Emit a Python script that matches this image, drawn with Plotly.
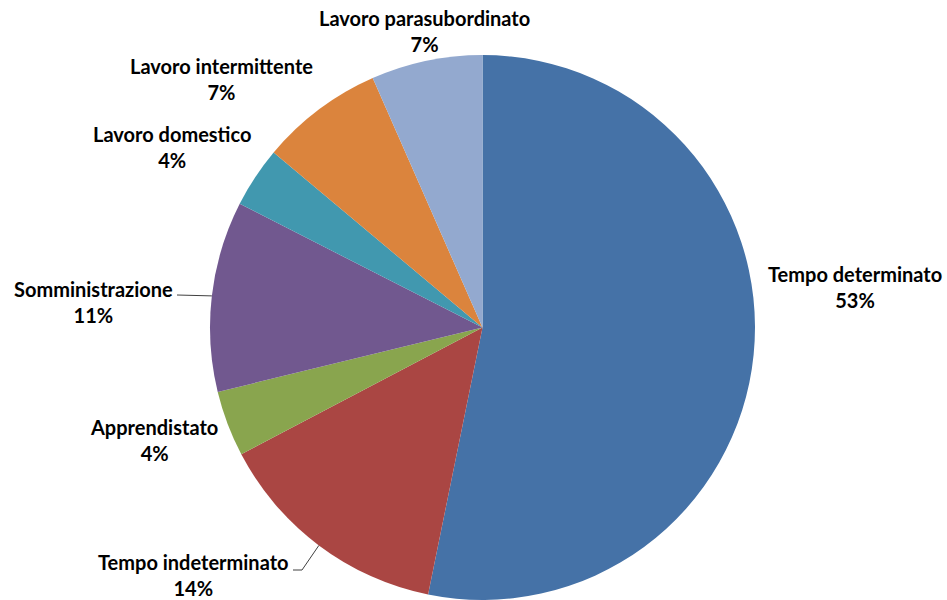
import math
import plotly.graph_objects as go

# ---- data ----
categories = ["Tempo determinato", "Tempo indeterminato", "Apprendistato",
              "Somministrazione", "Lavoro domestico", "Lavoro intermittente",
              "Lavoro parasubordinato"]
values = [53.2, 14.1, 3.9, 11.3, 3.6, 7.3, 6.6]
colors = ["#4572A7", "#AA4643", "#89A54E", "#71588F", "#4198AF", "#DB843D", "#93A9CF"]

# ---- layout config (pixel positions of label text centres) ----
W, H = 947, 600
CX, CY, R = 482.5, 327.5, 272.5
label_pos = {
    "Tempo determinato": (855, 287),
    "Tempo indeterminato": (193, 575),
    "Apprendistato": (154, 440),
    "Somministrazione": (93, 302),
    "Lavoro domestico": (172, 147),
    "Lavoro intermittente": (221, 79),
    "Lavoro parasubordinato": (424, 31),
}
leader_end = {
    "Somministrazione": [(177, 295)],
    "Tempo indeterminato": [(302, 570), (293, 570)],
}
FONT = "Lato"

def px(x):
    return x / W

def py(y):
    return 1 - y / H

total = sum(values)

fig = go.Figure(go.Pie(
    labels=categories,
    values=values,
    sort=False,
    direction="clockwise",
    rotation=0,
    marker=dict(colors=colors, line=dict(width=0)),
    textinfo="none",
    hoverinfo="label+percent",
    showlegend=False,
    domain=dict(x=[px(CX - R), px(CX + R)], y=[py(CY + R), py(CY - R)]),
))

annotations = []
for c, v in zip(categories, values):
    x, y = label_pos[c]
    pct = round(v / total * 100)
    annotations.append(dict(
        x=px(x), y=py(y), xref="paper", yref="paper",
        text=f"<b>{c}</b><br><b>{pct}%</b>", showarrow=False,
        font=dict(family=FONT, size=20, color="#000000"),
        align="center", xanchor="center", yanchor="middle",
    ))

shapes = []
cum = 0.0
for c, v in zip(categories, values):
    mid = (cum + v / 2) / total * 2 * math.pi
    cum += v
    if c in leader_end:
        pts = [(CX + R * math.sin(mid), CY - R * math.cos(mid))] + leader_end[c]
        path = "M " + " L ".join(f"{px(a)},{py(b)}" for a, b in pts)
        shapes.append(dict(type="path", xref="paper", yref="paper", path=path,
                           line=dict(color="#404040", width=1)))

fig.update_layout(
    width=W, height=H,
    margin=dict(l=0, r=0, t=0, b=0),
    paper_bgcolor="white", plot_bgcolor="white",
    annotations=annotations, shapes=shapes,
)

fig.write_html("out.html",
               config={"displayModeBar": False},
               post_script="document.body.style.margin='0';document.body.style.overflow='hidden';")
